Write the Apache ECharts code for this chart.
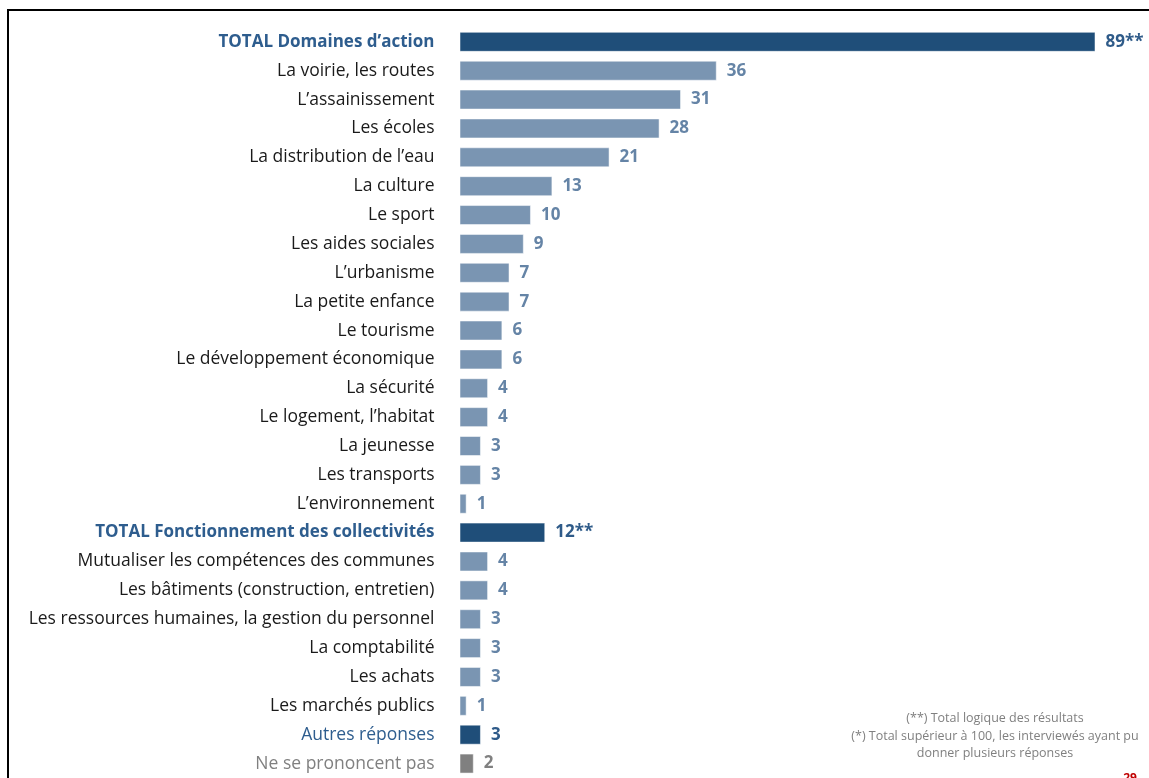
<!DOCTYPE html>
<html><head><meta charset="utf-8">
<script src="https://cdn.jsdelivr.net/npm/echarts@6/dist/echarts.min.js"></script>
<style>html,body{margin:0;padding:0;background:#fff;}#c{width:1149px;height:778px;}</style>
</head><body><div id="c"></div>
<script>
const categories = [
 "TOTAL Domaines d’action","La voirie, les routes","L’assainissement","Les écoles","La distribution de l’eau",
 "La culture","Le sport","Les aides sociales","L’urbanisme","La petite enfance","Le tourisme",
 "Le développement économique","La sécurité","Le logement, l’habitat","La jeunesse","Les transports",
 "L’environnement","TOTAL Fonctionnement des collectivités","Mutualiser les compétences des communes",
 "Les bâtiments (construction, entretien)","Les ressources humaines, la gestion du personnel",
 "La comptabilité","Les achats","Les marchés publics","Autres réponses","Ne se prononcent pas"];
const values = [89,36,31,28,21,13,10,9,7,7,6,6,4,4,3,3,1,12,4,4,3,3,3,1,3,2];
const kinds = ["total","item","item","item","item","item","item","item","item","item","item","item","item","item","item","item","item",
 "total","item","item","item","item","item","item","other","nsp"];
const valueSuffix = ["**","","","","","","","","","","","","","","","","","**","","","","","","","",""];
const notes = ["(**) Total logique des résultats","(*) Total supérieur à 100, les interviewés ayant pu","donner plusieurs réponses"];
const pageNumber = "29";

const FONT = "Open Sans";
const fs = 17.5;

const barColor = {total:"#1f4e79", item:"#7a95b2", other:"#1f4e79", nsp:"#808080"};
const valColor = {total:"#2f5b89", item:"#6584a6", other:"#2f5b89", nsp:"#808080"};
const catStyle = {
  total:{color:"#2e5d8e", fontWeight:"bold", fontSize:17},
  item:{color:"#1a1a1a", fontWeight:"normal", fontSize:fs},
  other:{color:"#2e5d8e", fontWeight:"normal", fontSize:fs},
  nsp:{color:"#808080", fontWeight:"normal", fontSize:fs}
};

const chart = echarts.init(document.getElementById('c'), null, {renderer:'canvas'});
chart.setOption({
  animation:false,
  backgroundColor:"#fff",
  grid:{left:459.5, top:27.4, width:636, height:758.2, containLabel:false},
  xAxis:{type:'value', min:0, max:89, show:false},
  yAxis:{type:'category', inverse:true,
    data: categories.map((c,i)=>({value:c, textStyle:catStyle[kinds[i]]})),
    axisLine:{show:false}, axisTick:{show:false},
    axisLabel:{margin:25, fontFamily:FONT, fontSize:fs, interval:0}},
  series:[{type:'bar', barWidth:20,
    data: values.map((v,i)=>({value:v,
      itemStyle:{color:barColor[kinds[i]], borderColor:'rgba(255,255,255,0.5)', borderWidth:1},
      label:{color:valColor[kinds[i]]}})),
    label:{show:true, position:'right', distance:10, fontFamily:FONT, fontWeight:'bold', fontSize:17,
      formatter:p=>p.value + valueSuffix[p.dataIndex]}}],
  graphic:[
    {type:'rect', shape:{x:8, y:10, width:1200, height:900}, style:{fill:null, stroke:'#000', lineWidth:2}, silent:true},
    {type:'text', x:995, y:710, style:{text:notes.join('\n'), fill:'#808080', font:'12.5px '+FONT, textAlign:'center', lineHeight:17.5}},
    {type:'text', x:1130, y:773, style:{text:pageNumber, fill:'#c00000', font:'bold 12px '+FONT, textAlign:'center'}}
  ]
});
</script></body></html>
